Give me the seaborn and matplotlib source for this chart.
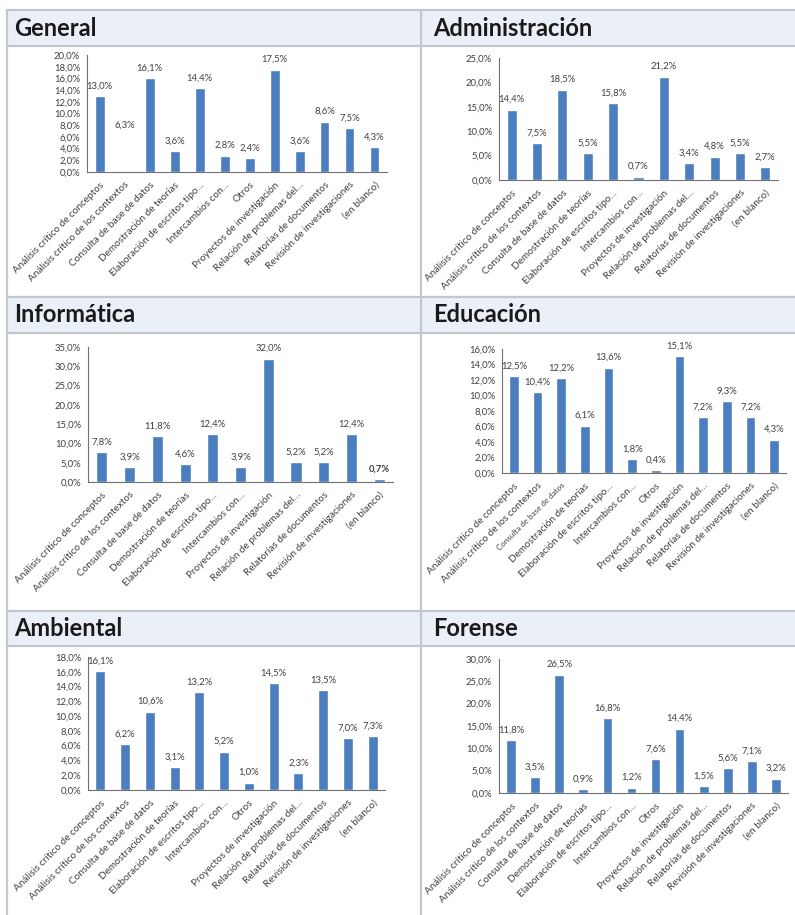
import matplotlib
matplotlib.use('Agg')
import matplotlib.pyplot as plt
import seaborn as sns
import numpy as np
from matplotlib.lines import Line2D
from matplotlib.patches import Rectangle

# categorías
cats_12 = ["Análisis crítico de conceptos", "Análisis crítico de los contextos",
           "Consulta de base de datos", "Demostración de teorías",
           "Elaboración de escritos tipo…", "Intercambios con…", "Otros",
           "Proyectos de investigación", "Relación de problemas del…",
           "Relatorías de documentos", "Revisión de investigaciones", "(en blanco)"]
cats_11 = [c for c in cats_12 if c != "Otros"]

general = [13.0, 6.3, 16.1, 3.6, 14.4, 2.8, 2.4, 17.5, 3.6, 8.6, 7.5, 4.3]
administracion = [14.4, 7.5, 18.5, 5.5, 15.8, 0.7, 21.2, 3.4, 4.8, 5.5, 2.7]
informatica = [7.8, 3.9, 11.8, 4.6, 12.4, 3.9, 32.0, 5.2, 5.2, 12.4, 0.7]
educacion = [12.5, 10.4, 12.2, 6.1, 13.6, 1.8, 0.4, 15.1, 7.2, 9.3, 7.2, 4.3]
ambiental = [16.1, 6.2, 10.6, 3.1, 13.2, 5.2, 1.0, 14.5, 2.3, 13.5, 7.0, 7.3]
forense = [11.8, 3.5, 26.5, 0.9, 16.8, 1.2, 7.6, 14.4, 1.5, 5.6, 7.1, 3.2]

W, H = 795, 915
BLUE = '#4a7ebf'
GRID = '#c3c6cc'
HEAD = '#ebeff7'
TXT = '#404040'

sns.set_style('white')
plt.rcParams['font.family'] = ['Lato', 'DejaVu Sans']

fig = plt.figure(figsize=(W / 100, H / 100), dpi=100)
fig.patch.set_facecolor('white')


def fx(x):
    return x / W


def fy(y):
    return 1 - y / H


# paneles: (titulo, categorias, valores, ymax, paso, x título, y título, caja ejes px)
panels = [
    ("General", cats_12, general, 20, 2, 14, 28, (87, 55, 387, 172)),
    ("Administración", cats_11, administracion, 25, 5, 433, 28, (499, 58, 778, 180)),
    ("Informática", cats_11, informatica, 35, 5, 14, 315, (88, 347, 393, 482)),
    ("Educación", cats_12, educacion, 16, 2, 433, 315, (502, 349, 786, 473)),
    ("Ambiental", cats_12, ambiental, 18, 2, 14, 628, (88, 657, 385, 790)),
    ("Forense", cats_12, forense, 30, 5, 433, 628, (499, 659, 788, 793)),
]

# cabeceras y líneas de la tabla
for (y0, y1) in [(10, 46), (297, 333), (611, 646)]:
    fig.add_artist(Rectangle((fx(7), fy(y1)), fx(795 - 7), y1 / H - y0 / H,
                             transform=fig.transFigure, facecolor=HEAD, edgecolor='none'))
for y in [10, 46, 297, 333, 611, 646]:
    fig.add_artist(Line2D([fx(7), fx(795)], [fy(y), fy(y)], transform=fig.transFigure,
                          color=GRID, lw=1.6))
for x in [7, 421]:
    fig.add_artist(Line2D([fx(x), fx(x)], [fy(10), fy(915)], transform=fig.transFigure,
                          color=GRID, lw=1.6))

for title, cats, vals, ymax, step, tx, ty, box in panels:
    x0, y0, x1, y1 = box
    fig.text(fx(tx), fy(ty), title, fontsize=17, fontweight='bold', color='#1a1a1a',
             va='center', ha='left')
    ax = fig.add_axes([fx(x0), fy(y1), (x1 - x0) / W, (y1 - y0) / H])
    ax.set_facecolor('none')
    sns.barplot(x=list(range(len(cats))), y=vals, color=BLUE, width=0.4,
                saturation=1, ax=ax)
    n = len(cats)
    ax.set_xlim(-0.5, n - 0.5)
    ax.set_ylim(0, ymax)
    yt = np.arange(0, ymax + 0.01, step)
    ax.set_yticks(yt)
    ax.set_yticklabels([f"{t:.1f}".replace('.', ',') + '%' for t in yt],
                       fontsize=6.8, color=TXT)
    ax.set_xticks(range(n))
    ax.set_xticklabels(cats, rotation=45, ha='right', rotation_mode='anchor',
                       fontsize=7.2, color=TXT)
    ax.tick_params(axis='x', length=0, pad=6)
    ax.set_xticks(np.arange(-0.5, n), minor=True)
    ax.tick_params(axis='x', which='minor', length=4, color='#707070', width=0.8)
    ax.tick_params(axis='y', length=3, color='#707070', width=0.8, pad=2)
    for s in ['top', 'right']:
        ax.spines[s].set_visible(False)
    for s in ['left', 'bottom']:
        ax.spines[s].set_color('#707070')
        ax.spines[s].set_linewidth(0.8)
    ax.set_xlabel('')
    ax.set_ylabel('')
    for i, v in enumerate(vals):
        ax.annotate(f"{v:.1f}".replace('.', ',') + '%', (i, v), xytext=(0, 4),
                    textcoords='offset points', ha='center', va='bottom',
                    fontsize=6.8, color=TXT,
                    fontweight='bold' if (title == "Informática" and i == n - 1) else 'normal')
    if title == "General":
        # la barra de "Análisis crítico de los contextos" no aparece en el original
        ax.patches[1].set_visible(False)
    if title == "Educación":
        ax.get_xticklabels()[2].set_fontsize(5.8)

fig.savefig('out.png', dpi=100)
